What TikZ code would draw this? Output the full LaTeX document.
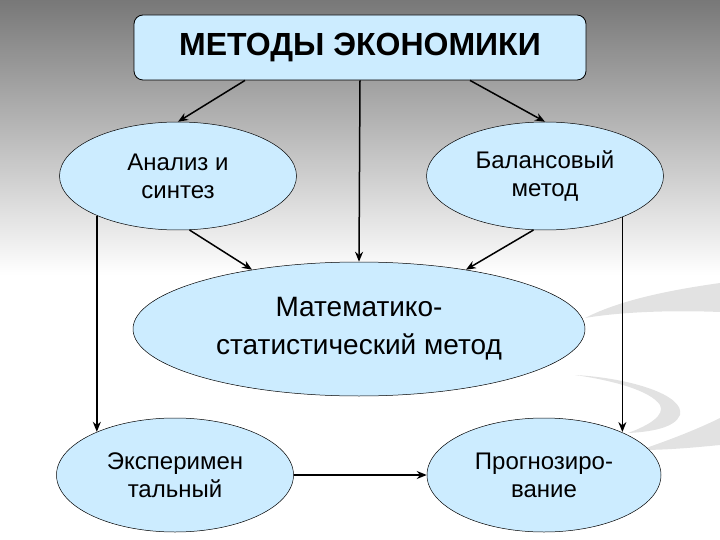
\documentclass[tikz,border=0pt]{standalone}
\usepackage{fontspec}
\setmainfont{Liberation Sans}
\usetikzlibrary{shapes.geometric,arrows.meta,calc}
\definecolor{boxblue}{HTML}{CCECFF}
\definecolor{bgtop}{HTML}{787878}
\definecolor{swoosh}{HTML}{E2E2E2}
\begin{document}
\begin{tikzpicture}[x=1pt,y=-1pt,
  titlebox/.style={draw=black, line width=0.8pt, fill=boxblue, rounded corners=9pt,
    minimum width=452pt, minimum height=65pt, inner sep=0pt,
    font=\fontsize{32}{36}\selectfont\bfseries},
  oval/.style={ellipse, draw=black, line width=0.5pt, fill=boxblue, inner sep=0pt,
    minimum width=237pt, minimum height=108pt, align=center,
    font=\fontsize{24}{28}\selectfont},
  bigoval/.style={oval, minimum width=452pt, minimum height=134pt,
    font=\fontsize{28}{38}\selectfont},
  arr/.style={-{Stealth[length=10pt,width=8pt]}, line width=1.5pt, black}]
\useasboundingbox (0,0) rectangle (720,540);
% background
\shade[top color=bgtop, bottom color=white] (0,0) rectangle (720,275);
% decorative swooshes
\fill[swoosh] (585,318) .. controls (620,300) and (670,290) .. (720,283)
  -- (720,312) .. controls (670,310) and (620,312) .. (585,318) -- cycle;
\fill[swoosh] (575,375) .. controls (630,378) and (685,395) .. (680,415)
  .. controls (675,428) and (650,432) .. (628,433)
  .. controls (650,425) and (665,415) .. (660,405)
  .. controls (650,390) and (610,380) .. (575,375) -- cycle;
\fill[swoosh] (640,450) .. controls (670,440) and (700,428) .. (720,418)
  -- (720,445) .. controls (690,448) and (665,450) .. (640,450) -- cycle;
% nodes
\node[titlebox] (top) at (360,47.5) {МЕТОДЫ ЭКОНОМИКИ};
\node[oval] (anal) at (178,176) {Анализ и\\синтез};
\node[oval] (bal) at (545,176) {Балансовый\\метод};
\node[bigoval] (mid) at (359,329) {Математико-\\статистический метод};
\node[oval, minimum height=114pt] (exp) at (175,475) {Эксперимен\\тальный};
\node[oval, minimum height=114pt, minimum width=234pt] (prog) at (544,475) {Прогнозиро-\\вание};
% connectors
\draw[arr] ([xshift=-115pt]top.south) -- (anal.north);
\draw[arr] (top.south) -- (mid.north);
\draw[arr] ([xshift=110pt]top.south) -- (bal.north);
\draw[arr] (anal.-78) -- (mid.151);
\draw[arr] (bal.-102) -- (mid.29);
\draw[arr] (anal.206) -- (anal.206 |- exp.151);
\draw[arr] (bal.-28) -- (bal.-28 |- prog.29);
\draw[arr] (exp.east) -- (prog.west);
\end{tikzpicture}
\end{document}
